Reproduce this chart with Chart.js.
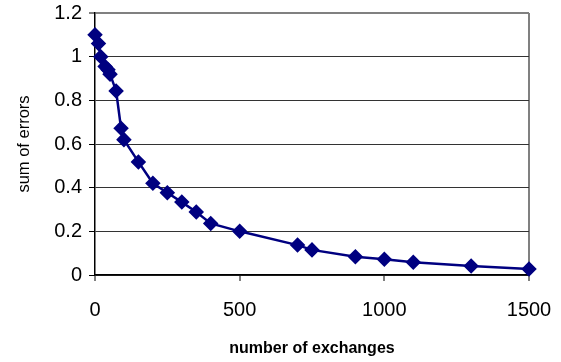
<html>
<head>
    <title>Sum of errors</title>
    <script src="https://cdn.jsdelivr.net/npm/chart.js"></script>
    <style>
        body { margin: 0; background: #fff; }
        .wrap { position: relative; width: 561px; height: 362px; }
    </style>
</head>
<body>
    <div class="wrap"><canvas id="myChart"></canvas></div>
    <script>
        // values
        const exchanges = [0, 12, 20, 35, 45, 52, 73, 90, 100, 150, 200, 250, 300, 350, 400, 500, 700, 750, 900, 1000, 1100, 1300, 1500]
        const sumOfErrors = [1.1, 1.06, 1.0, 0.955, 0.94, 0.92, 0.843, 0.672, 0.62, 0.518, 0.42, 0.377, 0.334, 0.289, 0.236, 0.2, 0.137, 0.115, 0.084, 0.072, 0.058, 0.041, 0.027]
        const xTicks = [0, 500, 1000, 1500]
        const yTicks = [0, 0.2, 0.4, 0.6, 0.8, 1, 1.2]

        const points = exchanges.map((x, i) => ({ x: x, y: sumOfErrors[i] }))
        const font = 'Arial, "Liberation Sans", sans-serif'

        var ctx = document.getElementById('myChart').getContext('2d')
        var myChart = new Chart(ctx, {
            type: 'scatter',
            data: {
                datasets: [{
                    data: points,
                    showLine: true,
                    borderColor: '#000080',
                    backgroundColor: '#000080',
                    borderWidth: 2.5,
                    pointStyle: 'rectRot',
                    pointRadius: 6,
                    pointHoverRadius: 6,
                    clip: false
                }]
            },
            options: {
                responsive: true,
                maintainAspectRatio: false,
                animation: false,
                layout: { padding: { top: 13, right: 32, left: 0, bottom: 0 } },
                plugins: { legend: { display: false }, tooltip: { enabled: false } },
                scales: {
                    x: {
                        type: 'linear',
                        min: xTicks[0],
                        max: xTicks[xTicks.length - 1],
                        afterBuildTicks: s => { s.ticks = xTicks.map(v => ({ value: v })) },
                        afterFit: s => { s.height = 87; s.paddingRight = 0; s.paddingLeft = 0 },
                        grid: {
                            drawOnChartArea: true,
                            color: c => c.tick && c.tick.value === 1500 ? '#808080' : 'rgba(0,0,0,0)',
                            lineWidth: 2,
                            tickColor: '#000',
                            tickLength: 6,
                            tickWidth: 1
                        },
                        border: { color: '#000', width: 1.5 },
                        ticks: {
                            color: '#000', font: { family: font, size: 20 }, padding: 17, maxRotation: 0,
                            callback: v => String(v)
                        },
                        title: {
                            display: true,
                            text: 'number of exchanges',
                            color: '#000',
                            font: { family: font, size: 16, weight: 'bold' },
                            padding: { top: 0, bottom: 4 }
                        }
                    },
                    y: {
                        min: yTicks[0],
                        max: yTicks[yTicks.length - 1],
                        afterBuildTicks: s => { s.ticks = yTicks.map(v => ({ value: v })) },
                        afterFit: s => { s.width = 95; s.paddingTop = 0; s.paddingBottom = 0 },
                        grid: {
                            color: c => c.tick && c.tick.value === 1.2 ? '#808080' : '#333',
                            lineWidth: c => c.tick && c.tick.value === 1.2 ? 2 : 1,
                            tickColor: '#000',
                            tickLength: 6,
                            tickWidth: 1
                        },
                        border: { color: '#000', width: 1.5 },
                        ticks: {
                            color: '#000', font: { family: font, size: 20 }, padding: 7,
                            callback: v => String(Math.round(v * 10) / 10)
                        },
                        title: {
                            display: true,
                            text: 'sum of errors',
                            color: '#000',
                            font: { family: font, size: 16.5 },
                            padding: { top: 15, bottom: 0 }
                        }
                    }
                }
            }
        })
    </script>
</body>
</html>
